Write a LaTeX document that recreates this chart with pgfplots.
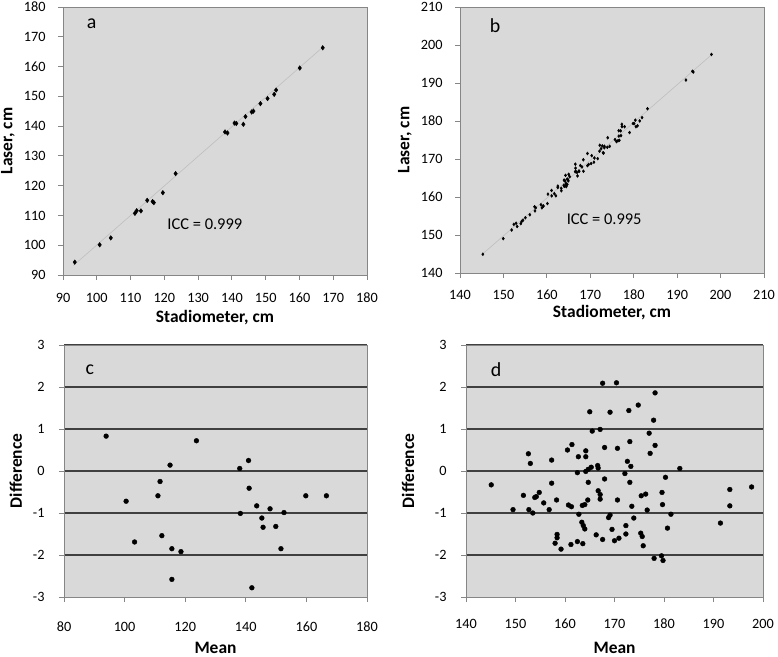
\documentclass[border=0pt]{standalone}
\usepackage{pgfplots}
\usepackage{pgfplotstable}
\pgfplotsset{compat=1.18}
\usepackage{fontspec}
\setmainfont{Carlito}
\definecolor{bgray}{RGB}{217,217,217}
\definecolor{fgray}{RGB}{134,134,134}
\definecolor{tgray}{RGB}{191,191,191}
\definecolor{ggray}{RGB}{64,64,64}

\pgfplotstableread{
m d
93.9 0.83
123.7 0.72
115.0 0.14
140.9 0.25
138.0 0.06
111.7 -0.25
141.1 -0.41
111.0 -0.59
100.5 -0.72
159.8 -0.59
166.6 -0.59
143.6 -0.83
148.0 -0.90
138.2 -1.01
152.6 -0.99
145.3 -1.12
145.7 -1.34
149.9 -1.32
112.3 -1.54
103.3 -1.69
115.6 -1.85
118.6 -1.92
151.6 -1.85
115.6 -2.58
142.0 -2.78
}\dataC

\pgfplotstableread{
m d
145.1 -0.33
149.5 -0.92
151.6 -0.58
152.6 0.41
153.0 0.18
152.7 -0.92
153.5 -1.00
153.9 -0.63
154.2 -0.61
154.8 -0.51
155.7 -0.76
156.8 -0.92
157.3 0.26
157.3 -0.29
158.3 -0.69
158.0 -1.72
158.4 -1.51
158.4 -1.59
159.2 -1.86
160.5 0.50
161.4 0.63
160.7 -0.81
161.3 -0.85
161.2 -1.75
162.5 -0.04
162.7 0.34
162.8 -1.03
162.5 -1.68
163.4 -1.22
163.7 -1.30
164.0 -1.38
163.5 -0.82
164.0 -0.80
164.6 -0.69
163.6 -1.73
164.2 0.48
164.2 0.34
164.2 -0.01
164.7 0.04
165.3 0.09
166.6 0.13
166.7 0.07
164.7 -0.27
165.0 1.41
165.5 0.95
166.3 -1.52
166.7 -0.47
167.1 -0.56
167.1 -0.67
167.1 0.99
167.6 2.09
167.6 -1.63
168.0 -0.19
168.0 0.56
168.8 -1.11
169.1 -1.05
169.1 1.40
169.5 -1.39
170.0 -1.66
170.4 2.10
170.6 0.54
170.6 -0.69
170.9 -1.60
172.1 -0.06
172.3 -1.30
172.3 -1.50
172.6 0.23
172.9 1.44
173.1 0.70
173.3 0.11
173.1 -0.27
173.5 -0.84
173.9 -1.12
174.8 1.57
175.4 -0.59
176.3 -0.55
176.6 -0.93
175.3 -1.48
175.6 -1.56
175.8 -1.78
177.0 0.90
177.2 0.42
177.9 1.21
178.2 1.86
178.2 0.61
178.0 -2.08
179.6 -0.51
179.7 -0.80
179.5 -2.02
179.8 -2.13
180.3 -0.15
180.7 -1.36
181.4 -1.03
183.2 0.06
191.4 -1.24
193.3 -0.44
193.3 -0.83
197.7 -0.38
}\dataD

\pgfplotsset{
  base/.style={
    scale only axis,
    anchor=south west,
    axis background/.style={fill=bgray},
    axis line style={draw=fgray, line width=0.8bp},
    tick style={draw=fgray, line width=0.8bp},
    tick align=outside,
    major tick length=5bp,
    xtick pos=bottom, ytick pos=left,
    /pgf/number format/assume math mode=true,
    /pgf/number format/1000 sep={},
    ticklabel style={font=\fontsize{14.3}{16}\selectfont, text=black},
    label style={font=\fontsize{17.5}{20}\bfseries\selectfont},
    xticklabel style={anchor=center},
    yticklabel style={anchor=east},
    clip=false,
  },
  scat/.style={only marks, mark=*, mark size=2.4bp, black},
}

\begin{document}
\begin{tikzpicture}
\useasboundingbox (0bp,0bp) rectangle (778bp,657bp);

% panel a
\begin{axis}[base,
  at={(63bp,382bp)}, width=304bp, height=268bp,
  xmin=90, xmax=180, ymin=90, ymax=180,
  xtick={90,100,...,180}, ytick={90,100,...,180},
  xticklabel style={yshift=-18bp}, yticklabel style={xshift=-9bp},
  xlabel={Stadiometer, cm}, ylabel={Laser, cm},
  xlabel style={at={(axis description cs:0.5,-0.160)}, anchor=center},
  ylabel style={at={(axis description cs:-0.181,0.5)}, anchor=center, rotate=0},
]
\addplot[tgray, line width=0.6bp] coordinates {(93.1,93.2) (167.0,166.6)};
\addplot[only marks, mark=diamond*, mark size=2.3bp, black]
  table[x expr=\thisrow{m}-0.5*\thisrow{d}, y expr=\thisrow{m}+0.5*\thisrow{d}] {\dataC};
\node[font=\fontsize{16.5}{19}\selectfont] at (axis cs:132.0,107.1) {ICC = 0.999};
\node[font=\fontsize{20}{22}\selectfont] at (axis cs:98.5,174.5) {a};
\end{axis}

% panel b
\begin{axis}[base,
  at={(460bp,384bp)}, width=304bp, height=266bp,
  xmin=140, xmax=210, ymin=140, ymax=210,
  xtick={140,150,...,210}, ytick={140,150,...,210},
  xticklabel style={yshift=-17bp}, yticklabel style={xshift=-9bp},
  xlabel={Stadiometer, cm}, ylabel={Laser, cm},
  xlabel style={at={(axis description cs:0.5,-0.147)}, anchor=center},
  ylabel style={at={(axis description cs:-0.181,0.5)}, anchor=center, rotate=0},
]
\addplot[tgray, line width=0.6bp] coordinates {(145.4,145.2) (198.3,197.8)};
\addplot[only marks, mark=diamond*, mark size=1.5bp, black]
  table[x expr=\thisrow{m}-0.5*\thisrow{d}, y expr=\thisrow{m}+0.5*\thisrow{d}] {\dataD};
\node[font=\fontsize{16.5}{19}\selectfont] at (axis cs:173.2,154.1) {ICC = 0.995};
\node[font=\fontsize{20}{22}\selectfont] at (axis cs:148.1,205.2) {b};
\end{axis}

% panel c
\begin{axis}[base,
  at={(64bp,60bp)}, width=303bp, height=252bp,
  xmin=80, xmax=180, ymin=-3, ymax=3,
  xtick={80,100,...,180}, ytick={-2,...,3},
  extra y ticks={-3}, extra y tick style={grid=none},
  ymajorgrids, grid style={ggray, line width=1.3bp},
  xticklabel style={yshift=-25bp}, yticklabel style={xshift=-11bp},
  xlabel={Mean}, ylabel={Difference},
  xlabel style={at={(axis description cs:0.5,-0.202)}, anchor=center},
  ylabel style={at={(axis description cs:-0.159,0.5)}, anchor=center, rotate=0},
]
\addplot[scat] table[x=m, y=d] {\dataC};
\node[font=\fontsize{20}{22}\selectfont] at (axis cs:88.5,2.40) {c};
\end{axis}

% panel d
\begin{axis}[base,
  at={(466bp,60bp)}, width=297bp, height=252bp,
  xmin=140, xmax=200, ymin=-3, ymax=3,
  xtick={140,150,...,200}, ytick={-2,...,3},
  extra y ticks={-3}, extra y tick style={grid=none},
  ymajorgrids, grid style={ggray, line width=1.3bp},
  xticklabel style={yshift=-22bp}, yticklabel style={xshift=-11bp},
  xlabel={Mean}, ylabel={Difference},
  xlabel style={at={(axis description cs:0.5,-0.202)}, anchor=center},
  ylabel style={at={(axis description cs:-0.195,0.5)}, anchor=center, rotate=0},
]
\addplot[scat] table[x=m, y=d] {\dataD};
\node[font=\fontsize{20}{22}\selectfont] at (axis cs:146.1,2.42) {d};
\end{axis}
\end{tikzpicture}
\end{document}
